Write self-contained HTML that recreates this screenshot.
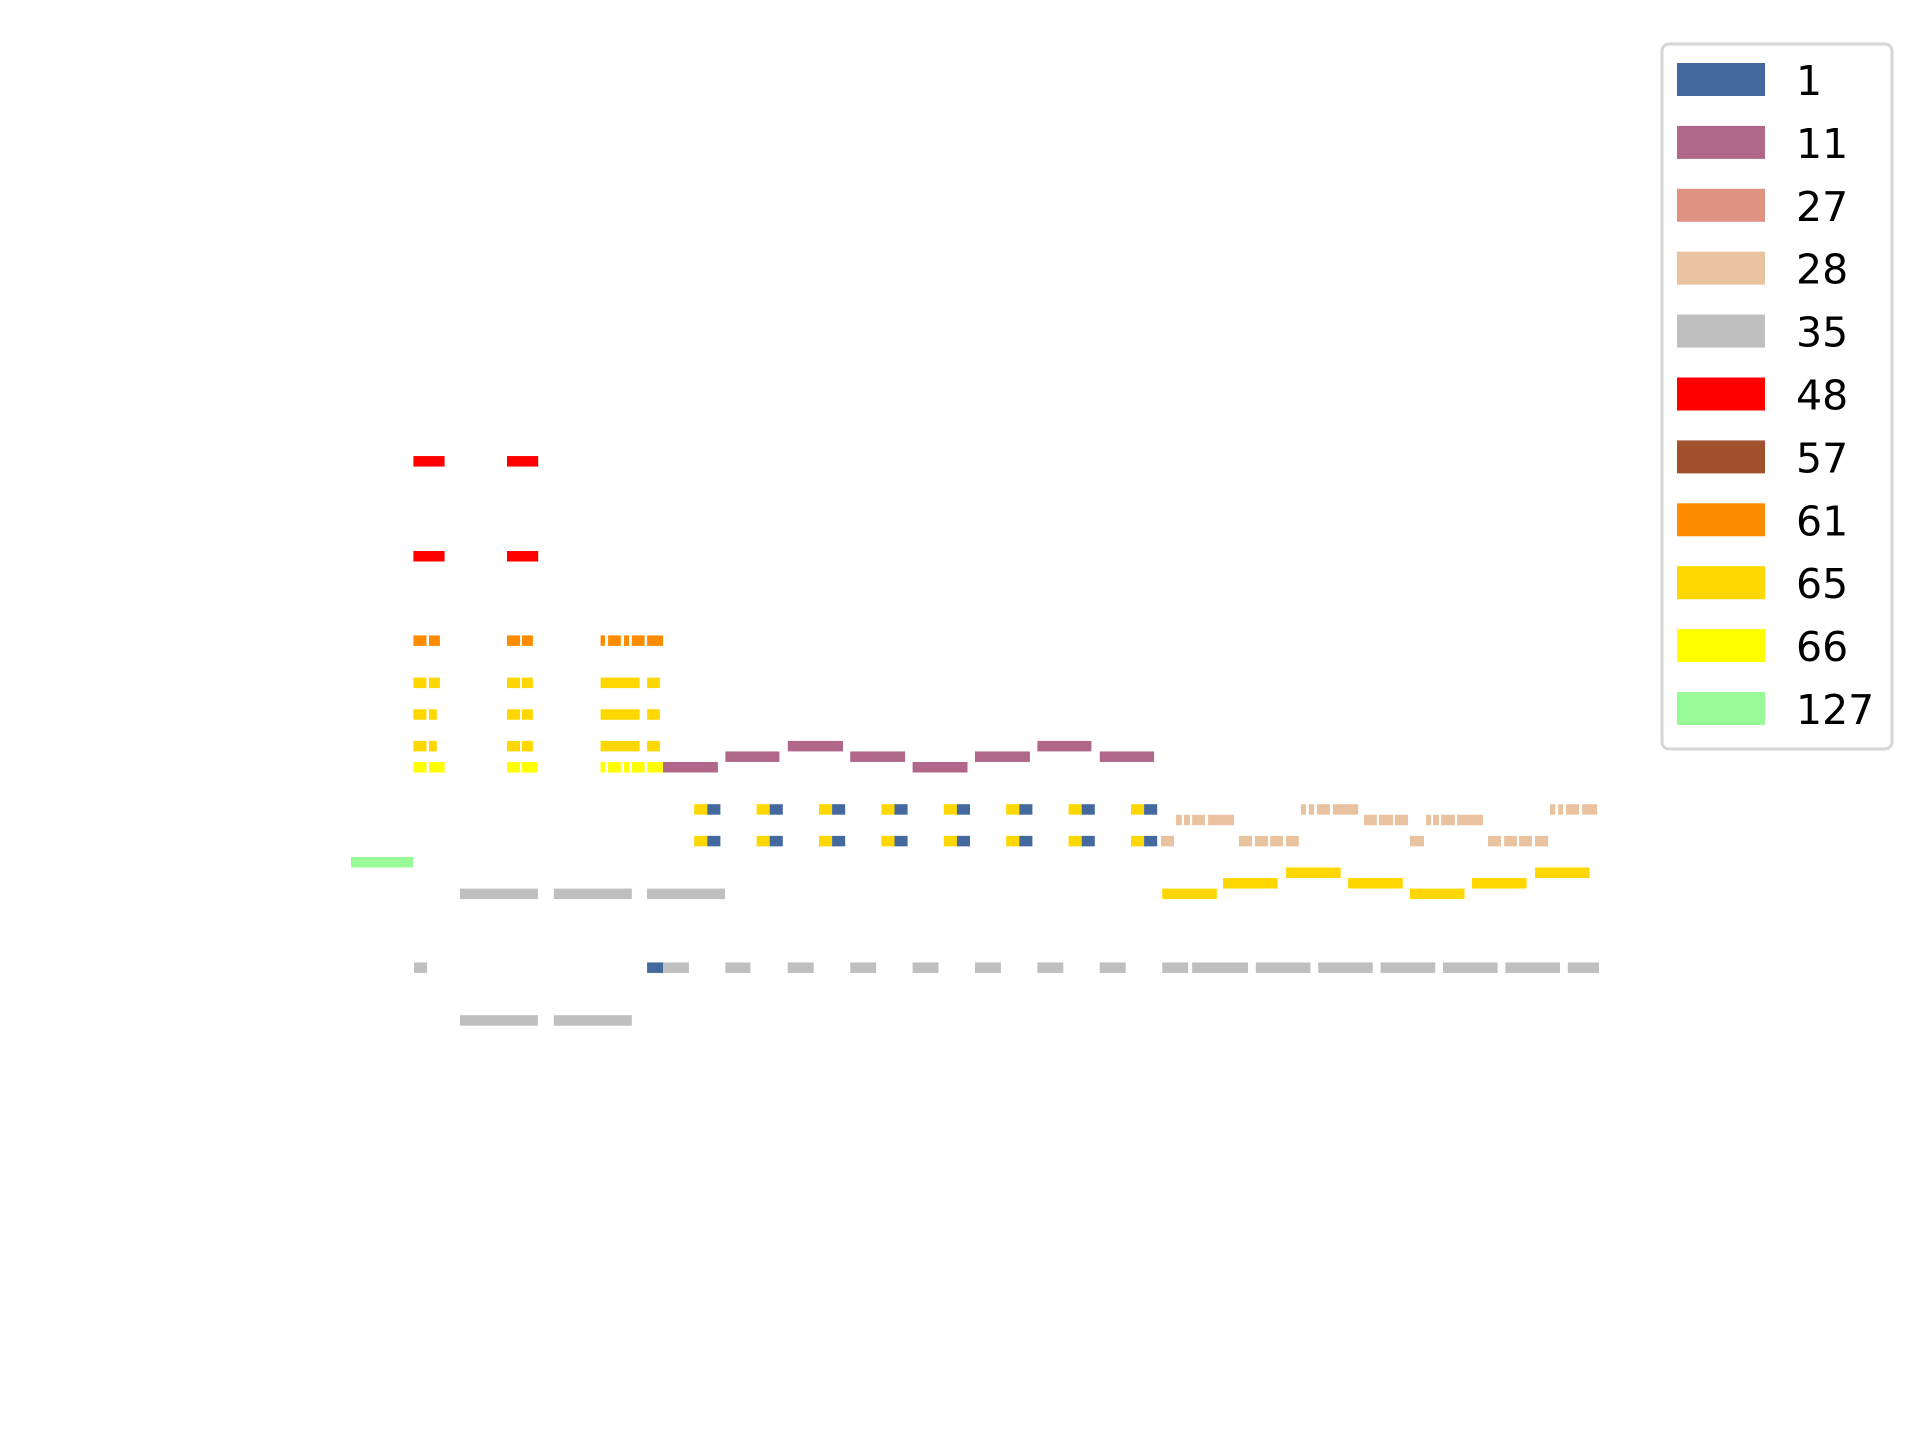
<!DOCTYPE html>
<html><head><meta charset="utf-8"><style>
html,body{margin:0;padding:0;background:#fff;width:1920px;height:1440px;overflow:hidden}
svg{display:block}
</style></head><body>
<svg id="chart" width="1920" height="1440" xmlns="http://www.w3.org/2000/svg">
<g id="notes"></g>
<g id="legend">
<rect x="1662" y="44" width="230" height="705" rx="7" fill="#fff" stroke="#d6d6d6" stroke-width="3"/>
</g>
</svg>
<script>
// instruments (legend categories)
const programs = ["1","11","27","28","35","48","57","61","65","66","127"];
const programColors = ["#43699f","#b0678a","#df9282","#e9c29f","#bfbfbf","#ff0000","#a0522d","#ff8c00","#ffd700","#ffff00","#98fb98"];

// notes: program, pitch, start (beats), duration (beats)
const noteProgram = [
 "127",
 "48","48","48","48",
 "61","61","61","61","61","61","61","61","61",
 "65","65","65","65","65","65",
 "65","65","65","65","65","65",
 "65","65","65","65","65","65",
 "66","66","66","66","66","66","66","66","66",
 "11","11","11","11","11","11","11","11",
 "65","65","65","65","65","65","65","65","65","65","65","65","65","65","65","65",
 "1","1","1","1","1","1","1","1","1","1","1","1","1","1","1","1",
 "35","35","1","35","35","35","35","35","35","35","35",
 "35","35","35","35","35","35","35","35",
 "35","35","35","35","35",
 "65","65","65","65","65","65","65",
 "28","28","28","28","28","28","28","28",
 "28","28","28","28","28","28","28","28","28","28","28",
 "28","28","28","28","28","28","28","28","28","28"
];
const notePitch = [
 51,
 89,89,80,80,
 72,72,72,72,72,72,72,72,72,
 68,68,68,68,68,68,
 65,65,65,65,65,65,
 62,62,62,62,62,62,
 60,60,60,60,60,60,60,60,60,
 60,61,62,61,60,61,62,61,
 56,53,56,53,56,53,56,53,56,53,56,53,56,53,56,53,
 56,53,56,53,56,53,56,53,56,53,56,53,56,53,56,53,
 41,41,41,41,41,41,41,41,41,41,41,
 41,41,41,41,41,41,41,41,
 48,48,48,36,36,
 48,49,50,49,48,49,50,
 56,56,56,56,56,56,56,56,
 55,55,55,55,55,55,55,55,55,55,55,
 53,53,53,53,53,53,53,53,53,53
];
const noteStart = [
 0,
 2,5,2,5,
 2,2.5,5,5.48,8,8.24,8.75,9,9.49,
 2,2.5,5,5.48,8,9.49,
 2,2.5,5,5.48,8,9.49,
 2,2.5,5,5.48,8,9.49,
 2,2.5,5,5.48,8,8.24,8.75,9,9.49,
 10,12,14,16,18,20,22,24,
 11,11,13,13,15,15,17,17,19,19,21,21,23,23,25,25,
 11.42,11.42,13.42,13.42,15.42,15.42,17.42,17.42,19.42,19.42,21.42,21.42,23.42,23.42,25.42,25.42,
 2.02,10,9.49,12,14,16,18,20,22,24,26,
 27,29,31,33,35,37,39,26.96,
 3.49,6.5,9.49,3.49,6.5,
 26,27.95,29.97,31.96,33.94,35.93,37.95,
 30.45,30.7,30.96,31.47,38.43,38.69,38.94,39.46,
 26.44,26.7,26.96,27.47,32.47,32.95,33.46,34.46,34.68,34.94,35.45,
 25.96,28.46,28.97,29.46,29.97,33.94,36.44,36.96,37.44,37.95
];
const noteDur = [
 2,
 1,1,1,1,
 .42,.35,.42,.35,.14,.41,.16,.41,.51,
 .42,.35,.42,.35,1.25,.41,
 .42,.25,.42,.35,1.25,.41,
 .42,.25,.42,.35,1.25,.41,
 .42,.5,.42,.5,.14,.41,.16,.41,.51,
 1.76,1.73,1.77,1.76,1.76,1.76,1.73,1.74,
 .42,.42,.42,.42,.42,.42,.42,.42,.42,.42,.42,.42,.42,.42,.42,.42,
 .42,.42,.42,.42,.42,.42,.42,.42,.42,.42,.42,.42,.42,.42,.42,.42,
 .42,.83,.51,.8,.83,.83,.83,.83,.83,.83,.83,
 1.75,1.75,1.75,1.75,1.75,1.75,1.0,1.76,
 2.5,2.5,2.5,2.5,2.5,
 1.75,1.75,1.75,1.75,1.75,1.75,1.75,
 .16,.17,.42,.81,.17,.16,.42,.48,
 .19,.19,.41,.83,.41,.45,.42,.16,.19,.44,.83,
 .42,.42,.42,.41,.41,.45,.42,.41,.41,.42
];

const X0 = 351, BEAT = 31.2;
function xScale(t){ return X0 + t*BEAT; }
const P0 = 60, Y0 = 762, SEMI = 10.55;
function yScale(p){ return Y0 - (p-P0)*SEMI; }

const NS = "http://www.w3.org/2000/svg";
const notesG = document.getElementById('notes');
for (let i=0;i<noteProgram.length;i++){
  const ci = programs.indexOf(noteProgram[i]);
  const r = document.createElementNS(NS,'rect');
  r.setAttribute('x', xScale(noteStart[i]).toFixed(2));
  r.setAttribute('y', yScale(notePitch[i]).toFixed(2));
  r.setAttribute('width', (noteDur[i]*BEAT).toFixed(2));
  r.setAttribute('height', 10.5);
  r.setAttribute('fill', programColors[ci]);
  
  
  notesG.appendChild(r);
}

const legendG = document.getElementById('legend');
for (let i=0;i<programs.length;i++){
  const y = 63 + i*62.9;
  const g = document.createElementNS(NS,'g');
  
  
  const r = document.createElementNS(NS,'rect');
  r.setAttribute('x',1677); r.setAttribute('y',y);
  r.setAttribute('width',88); r.setAttribute('height',33);
  r.setAttribute('fill',programColors[i]);
  
  
  const t = document.createElementNS(NS,'text');
  t.setAttribute('x',1796); t.setAttribute('y',y+32);
  t.setAttribute('font-family','"DejaVu Sans","Liberation Sans",sans-serif');
  t.setAttribute('font-size','41');
  t.setAttribute('fill','#000');
  
  
  t.textContent = programs[i];
  g.appendChild(r); g.appendChild(t);
  legendG.appendChild(g);
}
</script>
</body></html>
